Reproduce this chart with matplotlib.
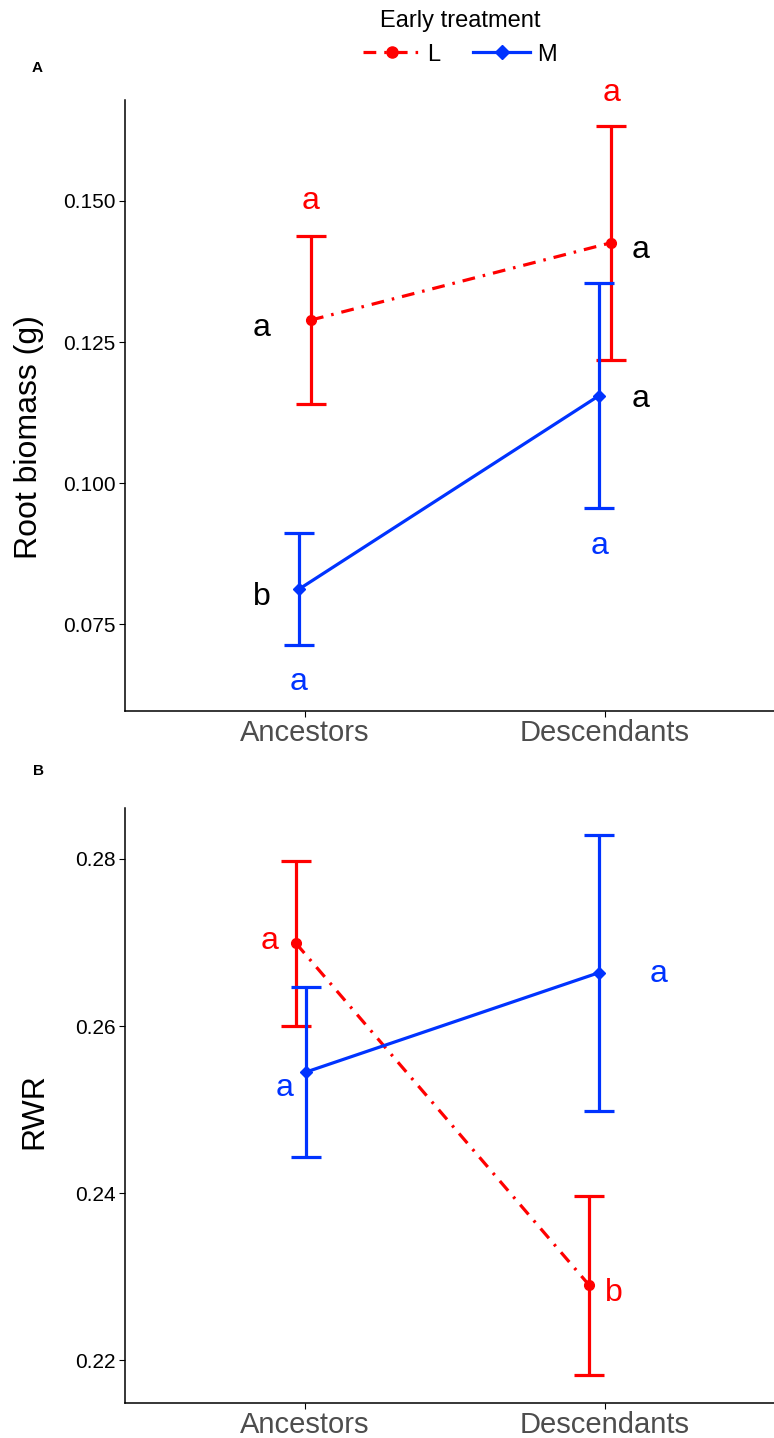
import numpy as np
import matplotlib
matplotlib.use("Agg")
import matplotlib.pyplot as plt
from matplotlib.lines import Line2D

plt.rcParams['font.family'] = ['Liberation Sans', 'DejaVu Sans']

# ---- data ----
groups = ['Ancestors', 'Descendants']
treatments = ['L', 'M']

root_L_mean = [0.1289, 0.1426]
root_L_err = [0.0149, 0.0207]
root_M_mean = [0.0812, 0.1155]
root_M_err = [0.0099, 0.0200]

rwr_L_mean = [0.2699, 0.2290]
rwr_L_err = [0.0099, 0.0107]
rwr_M_mean = [0.2545, 0.2664]
rwr_M_err = [0.0102, 0.0165]

# letters: (treatment, group index, text, colour, side)
root_letters = [('L', 0, 'a', 'L', 'above'), ('L', 0, 'a', 'k', 'left'),
                ('M', 0, 'b', 'k', 'left'), ('M', 0, 'a', 'M', 'below'),
                ('L', 1, 'a', 'L', 'above'), ('L', 1, 'a', 'k', 'right'),
                ('M', 1, 'a', 'k', 'right'), ('M', 1, 'a', 'M', 'below')]
rwr_letters = [('L', 0, 'a', 'L', 'left'), ('M', 0, 'a', 'M', 'left'),
               ('M', 1, 'a', 'M', 'right'), ('L', 1, 'b', 'L', 'right')]

# ---- style ----
colors = {'L': '#ff0000', 'M': '#0033ff', 'k': 'black'}
markers = {'L': 'o', 'M': 'D'}
msize = {'L': 7, 'M': 6}
lstyle = {'L': (0, (4, 2.5, 0.8, 2.5)), 'M': '-'}

fig = plt.figure(figsize=(7.74, 14.38), dpi=100)
W, H = 774, 1438


def add_ax(top, bottom):
    return fig.add_axes([125 / W, 1 - bottom / H, (W - 125) / W, (bottom - top) / H])


axA = add_ax(100, 711)
axB = add_ax(808, 1403)


def draw(ax, means, errs, dodge, letters, offsets, ylim, ticks, fmt, ylabel, ylab_pos):
    x = np.arange(1, len(groups) + 1)
    for t in treatments:
        xs = x + np.array(dodge[t])
        ax.errorbar(xs, means[t], yerr=errs[t], color=colors[t], lw=2.3,
                    capsize=10.8, capthick=2.3, linestyle='none', zorder=2)
        ax.plot(xs, means[t], color=colors[t], lw=2.3, linestyle=lstyle[t],
                marker=markers[t], markersize=msize[t], zorder=3)
    for t, g, txt, c, side in letters:
        xg = x[g] + dodge[t][g]
        if side == 'above':
            yv = means[t][g] + errs[t][g]
        elif side == 'below':
            yv = means[t][g] - errs[t][g]
        else:
            yv = means[t][g]
        dx, dy = offsets[(t, g, side)]
        ax.annotate(txt, (xg, yv), xytext=(dx, dy), textcoords='offset pixels',
                    ha='center', va='center_baseline', fontsize=23,
                    color=colors[c], annotation_clip=False)
    ax.set_xlim(0.4, 2.563)
    ax.set_ylim(*ylim)
    ax.set_yticks(ticks)
    ax.set_yticklabels([fmt.format(v) for v in ticks], fontsize=15, color='black')
    ax.set_xticks(x)
    ax.set_xticklabels(groups, fontsize=21, color='#4d4d4d')
    ax.set_ylabel(ylabel, fontsize=23)
    ax.yaxis.set_label_coords(*ylab_pos)
    for s in ['top', 'right']:
        ax.spines[s].set_visible(False)
    for s in ['left', 'bottom']:
        ax.spines[s].set_linewidth(1.1)
    ax.tick_params(length=4, width=0.8, pad=3)
    ax.tick_params(axis='x', pad=2)


draw(axA,
     {'L': root_L_mean, 'M': root_M_mean},
     {'L': root_L_err, 'M': root_M_err},
     {'L': [0.02, 0.02], 'M': [-0.02, -0.02]},
     root_letters,
     {('L', 0, 'above'): (0, 38), ('L', 0, 'left'): (-49, -4),
      ('M', 0, 'left'): (-37, -4), ('M', 0, 'below'): (0, -34),
      ('L', 1, 'above'): (0, 36), ('L', 1, 'right'): (29, -4),
      ('M', 1, 'right'): (41, 0), ('M', 1, 'below'): (0, -34)},
     (0.0596, 0.1679), [0.075, 0.100, 0.125, 0.150], '{:.3f}',
     'Root biomass (g)', (-0.125, 0.448))

draw(axB,
     {'L': rwr_L_mean, 'M': rwr_M_mean},
     {'L': rwr_L_err, 'M': rwr_M_err},
     {'L': [-0.03, -0.053], 'M': [0.003, -0.02]},
     rwr_letters,
     {('L', 0, 'left'): (-26, 6), ('M', 0, 'left'): (-21, -12),
      ('M', 1, 'right'): (59, 2), ('L', 1, 'right'): (25, -4)},
     (0.2149, 0.2861), [0.22, 0.24, 0.26, 0.28], '{:.2f}',
     'RWR', (-0.117, 0.49))

fig.text(37 / W, 1 - 68 / H, 'A', fontsize=11, fontweight='bold', ha='center', va='center')
fig.text(38 / W, 1 - 771 / H, 'B', fontsize=11, fontweight='bold', ha='center', va='center')

handles = [Line2D([], [], color=colors[t], lw=2.3, linestyle=lstyle[t],
                  marker=markers[t], markersize=msize[t] + 1) for t in treatments]
fig.legend(handles, treatments, title='Early treatment', loc='upper center',
           bbox_to_anchor=(460 / W, 1 - 5 / H), ncol=2, frameon=False, fontsize=17,
           title_fontsize=17, handlelength=2.4, handletextpad=0.3,
           columnspacing=1.4, borderaxespad=0.0, borderpad=0.2)

fig.savefig('out.png', dpi=100)
